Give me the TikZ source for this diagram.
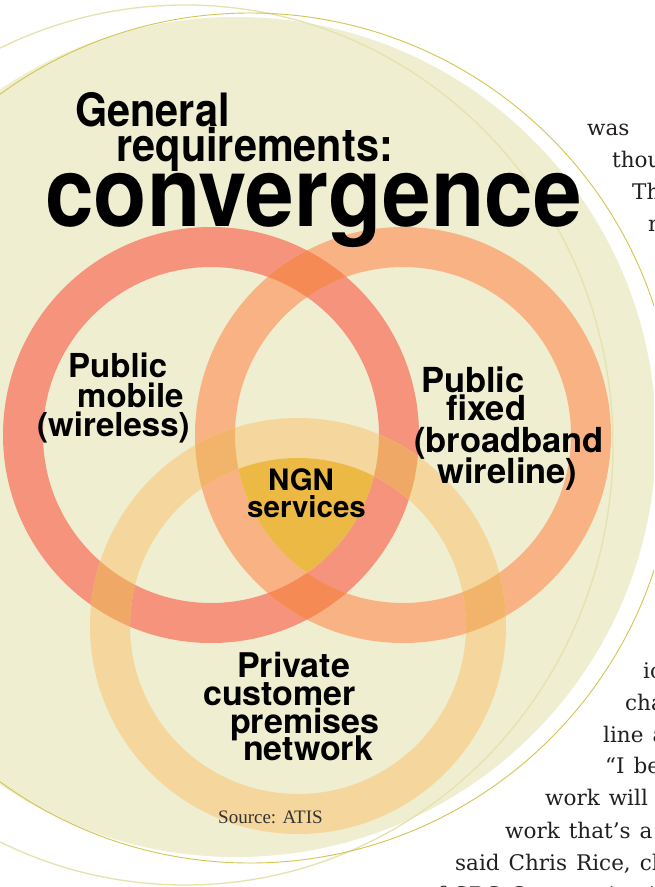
\documentclass[tikz,border=0pt]{standalone}
\usepackage{fontspec}
\setmainfont{DejaVu Serif}
\newfontfamily\headfont[FakeStretch=0.9]{TeX Gyre Heros}
\newfontfamily\lblfont{TeX Gyre Heros}
\newfontfamily\notefont{Liberation Serif}
\newcommand\bodyspacing{\spaceskip=9pt\relax}

\definecolor{disc}{HTML}{EFEED1}
\definecolor{rimpale}{HTML}{E5E2AE}
\definecolor{rimdark}{HTML}{D2C652}
\definecolor{mobring}{HTML}{F5937C}
\definecolor{fixring}{HTML}{F9B283}
\definecolor{premring}{HTML}{F5D69C}
\definecolor{mobfix}{HTML}{F58A55}
\definecolor{mobprem}{HTML}{F0A866}
\definecolor{fixprem}{HTML}{F2B46A}
\definecolor{ngncore}{HTML}{ECB944}
\definecolor{bodyink}{HTML}{231F20}

\begin{document}
\begin{tikzpicture}[x=1pt, y=-1pt,
  % band of width 40 round a centre, inner circle run backwards
  ring/.style 2 args={insert path={(#1+208,#2) arc[start angle=0, end angle=360, radius=208pt]
                                   (#1+168,#2) arc[start angle=0, end angle=-360, radius=168pt]}},
  head/.style={inner sep=0pt, anchor=base west, font=\headfont\bfseries},
  lbl/.style={inner sep=0pt, anchor=base west, font=\lblfont\bfseries\fontsize{34}{34}\selectfont},
  body/.style={inner sep=0pt, anchor=base west, text=bodyink,
               font=\fontsize{21.5}{21.5}\selectfont\bodyspacing}
]
\useasboundingbox (0,0) rectangle (654,887);
\clip (0,0) rectangle (654,887);
\fill[white] (0,0) rectangle (654,887);

% backdrop
\fill[disc] (236,437) circle (420pt);
\draw[rimpale, line width=1.3pt] (185,445) ellipse [x radius=428pt, y radius=440pt];
\draw[rimdark, line width=0.9pt] (250,438) circle (425pt);

% the three rings
\fill[mobring][ring={211}{435}];
\fill[fixring][ring={403}{435}];
\fill[premring][ring={298}{626}];

% where two bands cross
\begin{scope}
  \clip[ring={211}{435}];
  \fill[mobfix][ring={403}{435}];
  \fill[mobprem][ring={298}{626}];
\end{scope}
\begin{scope}
  \clip[ring={403}{435}];
  \fill[fixprem][ring={298}{626}];
\end{scope}

% common core
\begin{scope}
  \clip (211,435) circle (168pt);
  \clip (403,435) circle (168pt);
  \fill[ngncore] (298,626) circle (168pt);
\end{scope}

% title
\node[head, font=\headfont\bfseries\fontsize{46}{46}\selectfont] (gen) at (75,126) {General};
\node[head, font=\headfont\bfseries\fontsize{46}{46}\selectfont] (req) at (116,161) {requirements:};
\node[head, font=\headfont\bfseries\fontsize{97}{97}\selectfont] (conv) at (45,226) {convergence};

% ring labels
\node[lbl, font=\lblfont\bfseries\fontsize{33}{33}\selectfont] (mob1) at (68,377) {Public};
\node[lbl, font=\lblfont\bfseries\fontsize{33}{33}\selectfont] (mob2) at (77,407) {mobile};
\node[lbl, font=\lblfont\bfseries\fontsize{33}{33}\selectfont] (mob3) at (37,436) {(wireless)};

\node[lbl, font=\lblfont\bfseries\fontsize{34.5}{34.5}\selectfont] (fix1) at (421,392) {Public};
\node[lbl, font=\lblfont\bfseries\fontsize{34.5}{34.5}\selectfont] (fix2) at (446,420) {fixed};
\node[lbl, font=\lblfont\bfseries\fontsize{34.5}{34.5}\selectfont] (fix3) at (414,452) {(broadband};
\node[lbl, font=\lblfont\bfseries\fontsize{34.5}{34.5}\selectfont] (fix4) at (437,483) {wireline)};

\node[lbl] (prem1) at (237,677) {Private};
\node[lbl] (prem2) at (203,705) {customer};
\node[lbl] (prem3) at (230,733) {premises};
\node[lbl] (prem4) at (243,760) {network};

\node[lbl, font=\lblfont\bfseries\fontsize{29.5}{29.5}\selectfont] (ngn1) at (268,490) {NGN};
\node[lbl, font=\lblfont\bfseries\fontsize{29.5}{29.5}\selectfont] (ngn2) at (247,517) {services};

\node[inner sep=0pt, anchor=base west, text=black!80, font=\notefont\fontsize{19}{19}\selectfont]
  (src) at (218,823) {Source: ATIS};

% running text beside the disc
\node[body] (t1) at (587,135) {was};
\node[body] (t2) at (612,167) {thou};
\node[body] (t3) at (632,199) {Th};
\node[body] (t4) at (648,231) {n};

\node[body] (b1) at (643,678) {ic};
\node[body] (b2) at (625,710) {cha};
\node[body] (b3) at (603,742) {line a};
\node[body] (b4) at (605,773) {“I be};
\node[body] (b5) at (545,805) {work will};
\node[body] (b6) at (505,838) {work that’s a};
\node[body] (b7) at (455,870) {said Chris Rice, ch};
\node[body] (b8) at (424,902) {of SBC Communications};
\end{tikzpicture}
\end{document}
